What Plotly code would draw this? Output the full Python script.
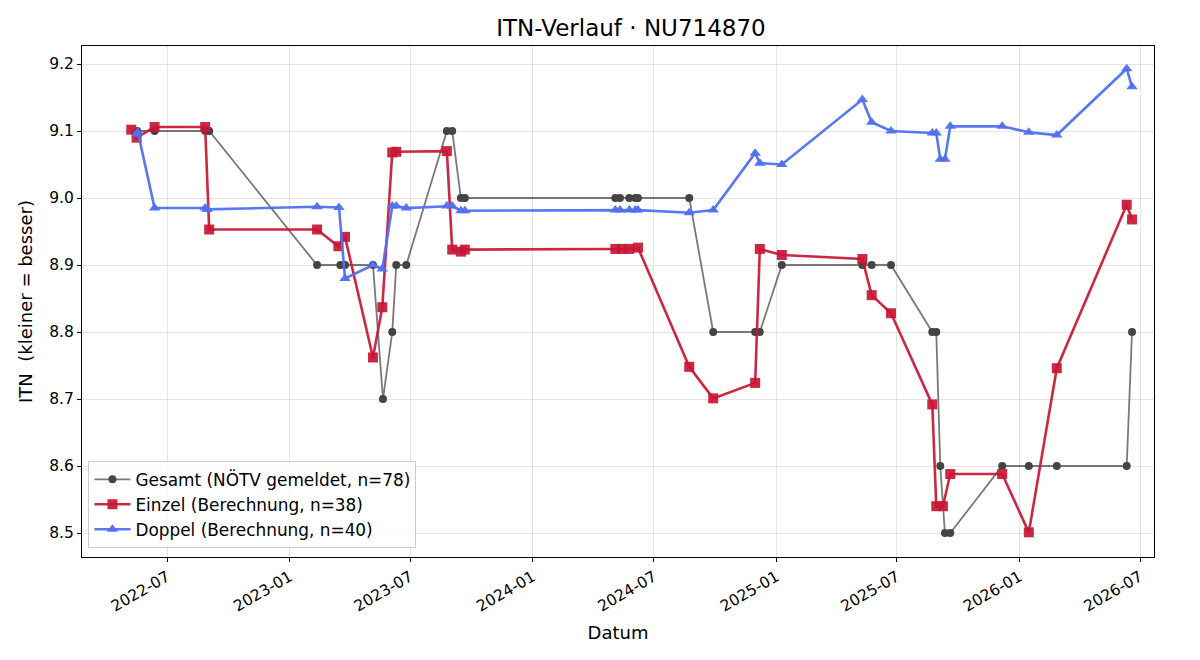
import plotly.graph_objects as go

# ---------------- data ----------------
gesamt_dates = ["2022-05-17", "2022-06-12", "2022-08-27", "2022-09-02", "2023-02-11",
                "2023-03-18", "2023-03-25", "2023-05-06", "2023-05-21", "2023-06-04",
                "2023-06-10", "2023-06-25", "2023-08-25", "2023-09-02", "2023-09-15",
                "2023-09-21", "2024-05-04", "2024-05-11", "2024-05-25", "2024-06-03",
                "2024-06-07", "2024-08-23", "2024-09-28", "2024-11-30", "2024-12-07",
                "2025-01-09", "2025-05-10", "2025-05-24", "2025-06-22", "2025-08-23",
                "2025-08-29", "2025-09-04", "2025-09-11", "2025-09-19", "2025-12-06",
                "2026-01-15", "2026-02-26", "2026-06-11", "2026-06-19"]
gesamt_vals = [9.1, 9.1, 9.1, 9.1, 8.9,
               8.9, 8.9, 8.9, 8.7, 8.8,
               8.9, 8.9, 9.1, 9.1, 9.0,
               9.0, 9.0, 9.0, 9.0, 9.0,
               9.0, 9.0, 8.8, 8.8, 8.8,
               8.9, 8.9, 8.9, 8.9, 8.8,
               8.8, 8.6, 8.5, 8.5, 8.6,
               8.6, 8.6, 8.6, 8.8]

einzel_dates = ["2022-05-08", "2022-05-16", "2022-06-12", "2022-08-27", "2022-09-02",
                "2023-02-11", "2023-03-15", "2023-03-25", "2023-05-06", "2023-05-20",
                "2023-06-04", "2023-06-10", "2023-08-25", "2023-09-02", "2023-09-15",
                "2023-09-21", "2024-05-04", "2024-05-14", "2024-05-25", "2024-06-07",
                "2024-08-23", "2024-09-28", "2024-11-30", "2024-12-07", "2025-01-09",
                "2025-05-10", "2025-05-24", "2025-06-22", "2025-08-23", "2025-08-29",
                "2025-09-08", "2025-09-19", "2025-12-06", "2026-01-15", "2026-02-26",
                "2026-06-11", "2026-06-19"]
einzel_vals = [9.102, 9.090, 9.106, 9.106, 8.953,
               8.953, 8.928, 8.942, 8.762, 8.837,
               9.068, 9.069, 9.070, 8.923, 8.920,
               8.923, 8.924, 8.924, 8.924, 8.926,
               8.748, 8.701, 8.724, 8.924, 8.915,
               8.909, 8.855, 8.828, 8.692, 8.540,
               8.540, 8.588, 8.588, 8.501, 8.746,
               8.990, 8.968]

doppel_dates = ["2022-05-16", "2022-05-18", "2022-06-12", "2022-08-27", "2022-08-30",
                "2023-02-11", "2023-03-16", "2023-03-25", "2023-05-06", "2023-05-20",
                "2023-06-04", "2023-06-10", "2023-06-25", "2023-08-25", "2023-09-02",
                "2023-09-15", "2023-09-21", "2024-05-04", "2024-05-11", "2024-05-25",
                "2024-06-03", "2024-06-07", "2024-08-23", "2024-09-28", "2024-11-30",
                "2024-12-07", "2025-01-09", "2025-05-10", "2025-05-24", "2025-06-22",
                "2025-08-23", "2025-08-29", "2025-09-04", "2025-09-11", "2025-09-19",
                "2025-12-06", "2026-01-15", "2026-02-26", "2026-06-11", "2026-06-19"]
doppel_vals = [9.095, 9.098, 8.985, 8.985, 8.983,
               8.987, 8.986, 8.880, 8.900, 8.894,
               8.988, 8.988, 8.985, 8.988, 8.988,
               8.981, 8.981, 8.982, 8.982, 8.982,
               8.982, 8.982, 8.978, 8.982, 9.067,
               9.052, 9.050, 9.147, 9.113, 9.100,
               9.097, 9.097, 9.058, 9.058, 9.107,
               9.107, 9.098, 9.094, 9.193, 9.166]

tick_vals = ["2022-07-01", "2023-01-01", "2023-07-01", "2024-01-01", "2024-07-01",
             "2025-01-01", "2025-07-01", "2026-01-01", "2026-07-01"]
tick_text = ["2022-07", "2023-01", "2023-07", "2024-01", "2024-07",
             "2025-01", "2025-07", "2026-01", "2026-07"]
y_ticks = [8.5, 8.6, 8.7, 8.8, 8.9, 9.0, 9.1, 9.2]

FONT = "DejaVu Sans"

fig = go.Figure()
fig.add_trace(go.Scatter(
    x=gesamt_dates, y=gesamt_vals, mode="lines+markers",
    name="Gesamt (NÖTV gemeldet, n=78)",
    line=dict(color="rgba(70,70,70,0.72)", width=1.8),
    marker=dict(symbol="circle", size=8, color="#444444",
                line=dict(width=0))))
fig.add_trace(go.Scatter(
    x=einzel_dates, y=einzel_vals, mode="lines+markers",
    name="Einzel (Berechnung, n=38)",
    line=dict(color="rgba(200,22,52,0.92)", width=2.6),
    marker=dict(symbol="square", size=10, color="rgba(200,22,52,0.92)",
                line=dict(width=0))))
fig.add_trace(go.Scatter(
    x=doppel_dates, y=doppel_vals, mode="lines+markers",
    name="Doppel (Berechnung, n=40)",
    line=dict(color="rgba(80,112,240,0.95)", width=2.6),
    marker=dict(symbol="triangle-up", size=10, color="rgba(80,112,240,0.95)",
                line=dict(width=0))))

axis_common = dict(
    showline=True, linecolor="black", linewidth=1, mirror=True,
    ticks="outside", ticklen=4, tickcolor="black", tickwidth=1,
    showgrid=True, gridcolor="rgba(0,0,0,0.1)", gridwidth=1,
    zeroline=False,
    tickfont=dict(family=FONT, size=15.5, color="black"),
)

fig.update_layout(
    width=1200, height=660,
    paper_bgcolor="white", plot_bgcolor="white",
    margin=dict(l=82, r=46, t=46, b=103),
    title=dict(text="ITN-Verlauf · NU714870", xref="container", x=631 / 1200,
               xanchor="center", y=1 - 28 / 660, yanchor="middle",
               font=dict(family=FONT, size=23, color="black")),
    font=dict(family=FONT, color="black"),
    xaxis=dict(axis_common, type="date",
               range=["2022-02-23", "2026-07-22"],
               tickmode="array", tickvals=tick_vals, ticktext=tick_text,
               tickangle=-30,
               title=dict(text="Datum", font=dict(family=FONT, size=18), standoff=11)),
    yaxis=dict(axis_common, range=[8.4642, 9.2269],
               tickmode="array", tickvals=y_ticks,
               ticktext=[f"{v:.1f}" for v in y_ticks],
               title=dict(text="ITN  (kleiner = besser)", font=dict(family=FONT, size=18), standoff=11)),
    legend=dict(x=0.006, y=0.018, xanchor="left", yanchor="bottom",
                bgcolor="rgba(255,255,255,0.8)", bordercolor="rgba(0,0,0,0.2)",
                borderwidth=1, font=dict(family=FONT, size=16.9, color="black"),
                itemwidth=36, tracegroupgap=0),
    showlegend=True,
)

fig.write_html("out.html")
